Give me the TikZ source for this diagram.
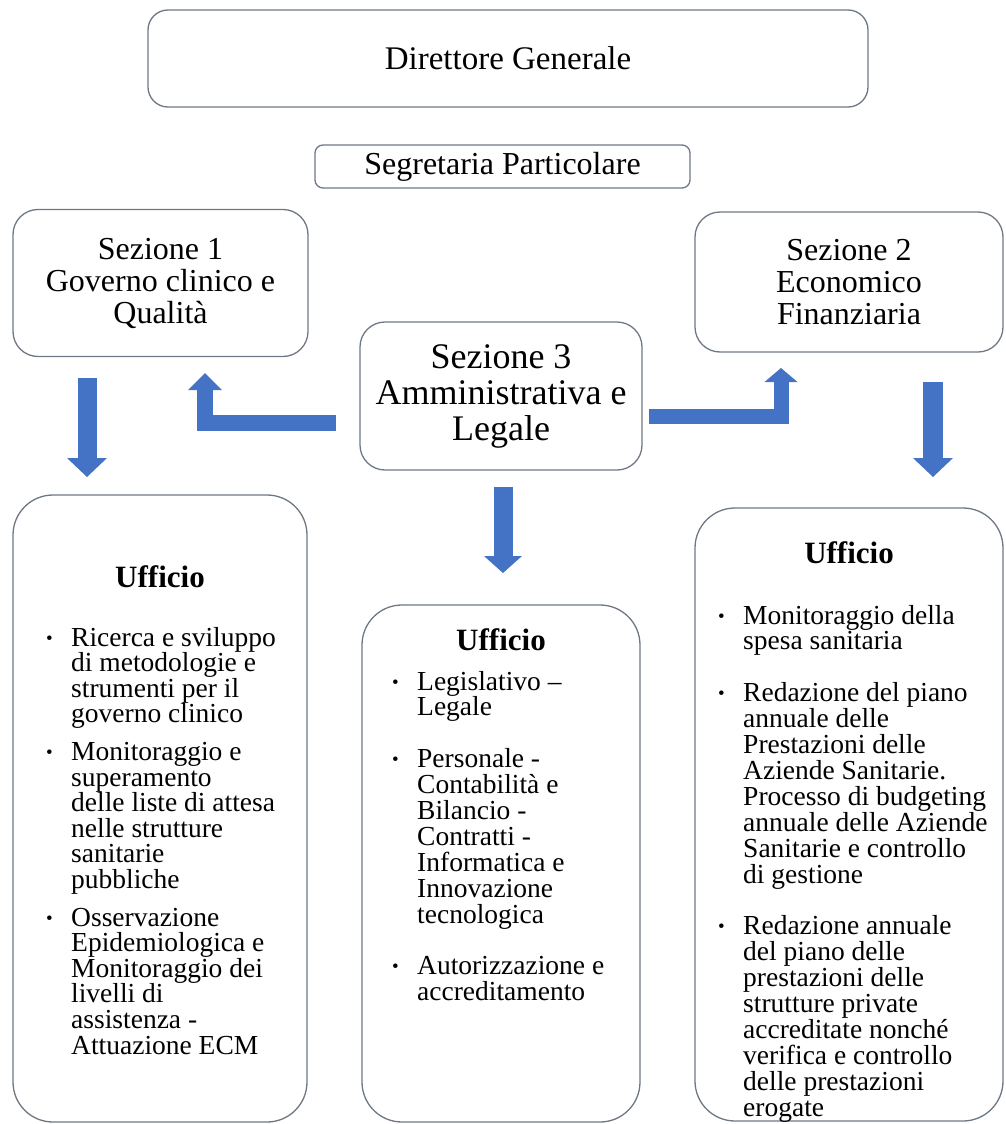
\documentclass[tikz,border=0pt]{standalone}
\usepackage{fontspec}
\setmainfont{Liberation Serif}
\usetikzlibrary{arrows.meta}
\definecolor{boxline}{RGB}{110,120,132}
\definecolor{arrowblue}{RGB}{68,114,196}
\newcommand{\fsz}[2]{\fontsize{#1pt}{#2pt}\selectfont}
\newcommand{\bul}{\raisebox{2pt}{\fontsize{19pt}{19pt}\selectfont\textbullet}}
\newcommand{\bitem}[1]{\par\hangindent=25pt\hangafter=1\noindent\makebox[25pt][l]{\bul}#1\par}
\newcommand{\ulist}[2]{\parbox[t]{#1}{\lineskiplimit=-1000pt\lineskip=0pt\parskip=0pt #2}}
\tikzset{
  box/.style={draw=boxline, line width=1.3pt, fill=white, inner sep=2pt},
  secbox/.style={box, rounded corners=25pt, align=center},
  offbox/.style={box, rounded corners=40pt},
  offtitle/.style={inner sep=0pt, font=\fsz{31}{31}\bfseries},
  offlist/.style={inner sep=0pt, anchor=base west},
  barrow/.style={draw=arrowblue, line width=#1, line join=miter},
}
\begin{document}
\begin{tikzpicture}[x=1pt,y=-1pt]
\useasboundingbox (0,0) rectangle (1005,1124);
\clip (0,0) rectangle (1005,1124);

% top boxes
\node[box, rounded corners=20pt, minimum width=720pt, minimum height=97pt, font=\fsz{33}{33}] (dg) at (508,58.5) {Direttore Generale};
\node[box, rounded corners=8pt, minimum width=375pt, minimum height=43pt, font=\fsz{32}{32}] (sp) at (502.5,166.5) {Segretaria Particolare};

% sections
\node[secbox, minimum width=295pt, minimum height=147pt, font=\fsz{32}{32}] (s1) at (160.5,283) {Sezione 1\\Governo clinico e\\Qualità};
\node[secbox, minimum width=308pt, minimum height=140pt, font=\fsz{32}{32}] (s2) at (849,282) {Sezione 2\\Economico\\Finanziaria};
\node[secbox, minimum width=282pt, minimum height=148pt, font=\fsz{36}{36}] (s3) at (501,396) {Sezione 3\\Amministrativa e\\Legale};

% office boxes
\node[offbox, minimum width=294pt, minimum height=627pt] (u1) at (160,808.5) {};
\node[offbox, minimum width=278pt, minimum height=517pt] (u3) at (501,863.5) {};
\node[offbox, minimum width=308pt, minimum height=613pt] (u2) at (849,814.5) {};

\node[offtitle] (t1) at (160,577) {Ufficio};
\node[offtitle] (t3) at (501,640) {Ufficio};
\node[offtitle] (t2) at (849,553) {Ufficio};

\node[offlist] (l1) at (46,646) {\fsz{27.5}{25.6}\ulist{258pt}{%
\bitem{Ricerca e sviluppo\\di metodologie e\\strumenti per il\\governo clinico}\vspace{12pt}
\bitem{Monitoraggio e\\superamento\\delle liste di attesa\\nelle strutture\\sanitarie\\pubbliche}\vspace{12pt}
\bitem{Osservazione\\Epidemiologica e\\Monitoraggio dei\\livelli di\\assistenza -\\Attuazione ECM}}};

\node[offlist] (l3) at (392,690) {\fsz{27.5}{25.9}\ulist{240pt}{%
\bitem{Legislativo –\\Legale}\vspace{25.9pt}
\bitem{Personale -\\Contabilità e\\Bilancio -\\Contratti -\\Informatica e\\Innovazione\\tecnologica}\vspace{25.9pt}
\bitem{Autorizzazione e\\accreditamento}}};

\node[offlist] (l2) at (718,624) {\fsz{27.5}{25.9}\ulist{284pt}{%
\bitem{Monitoraggio della\\spesa sanitaria}\vspace{25.9pt}
\bitem{Redazione del piano\\annuale delle\\Prestazioni delle\\Aziende Sanitarie.\\Processo di budgeting\\annuale delle Aziende\\Sanitarie e controllo\\di gestione}\vspace{25.9pt}
\bitem{Redazione annuale\\del piano delle\\prestazioni delle\\strutture private\\accreditate nonché\\verifica e controllo\\delle prestazioni\\erogate}}};

% arrow end points
\coordinate (a1s) at (87,378);   \coordinate (a1e) at (87,477);
\coordinate (a2s) at (933,382);  \coordinate (a2e) at (933,477);
\coordinate (a3s) at (503,487);  \coordinate (a3e) at (503,573);
\coordinate (b1s) at (336,422.5); \coordinate (b1e) at (205,373);
\coordinate (b2s) at (649,416);  \coordinate (b2e) at (781,368);

\draw[barrow=19pt, -{Triangle[width=40pt,length=19pt,line width=0pt]}] (a1s) -- (a1e);
\draw[barrow=20pt, -{Triangle[width=40pt,length=19pt,line width=0pt]}] (a2s) -- (a2e);
\draw[barrow=19pt, -{Triangle[width=38pt,length=17pt,line width=0pt]}] (a3s) -- (a3e);
\draw[barrow=16pt, -{Triangle[width=34pt,length=17pt,line width=0pt]}] (b1s) -| (b1e);
\draw[barrow=15pt, -{Triangle[width=33pt,length=14pt,line width=0pt]}] (b2s) -| (b2e);
\end{tikzpicture}
\end{document}
